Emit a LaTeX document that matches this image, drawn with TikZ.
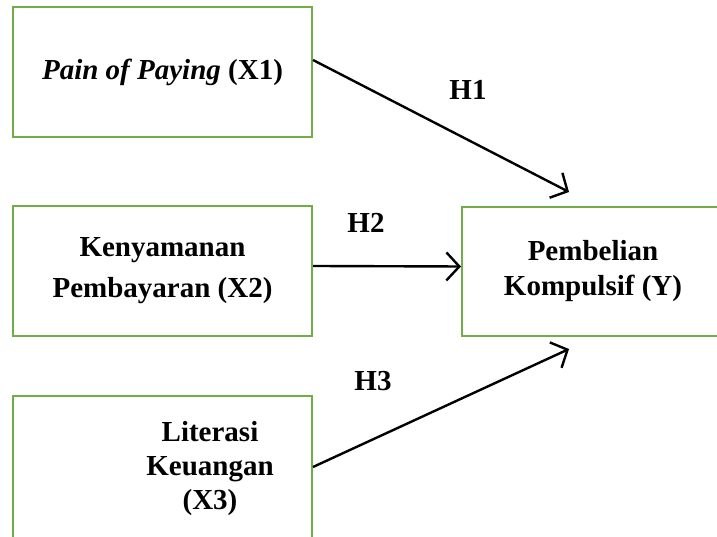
\documentclass[tikz,border=0pt]{standalone}
\usepackage{fontspec}
\setmainfont{Liberation Serif}
\usetikzlibrary{arrows.meta}
\definecolor{boxgreen}{HTML}{70AD47}

\begin{document}
\begin{tikzpicture}[x = 1pt, y = 1pt, line width = 2.4pt,
                      >={Straight Barb[length=13pt, width=28pt, line width=2.4pt]},
                      var/.style = {draw = boxgreen, line width = 2pt, align = center,
                                    font = \fontsize{29}{36}\selectfont\bfseries},
                      hyp/.style = {font = \fontsize{29}{34}\selectfont\bfseries}]
    \useasboundingbox (0, 0) rectangle (717, 537);
    \clip (0, 0) rectangle (717, 537);
    \node [var, minimum width = 299, minimum height = 130] (x1) at (162.5, 465)
        {\textit{Pain of Paying} (X1)};
    \node [var, minimum width = 299, minimum height = 130,
           font = \fontsize{29}{41}\selectfont\bfseries] (x2) at (162.5, 266)
        {Kenyamanan\\Pembayaran (X2)};
    \node [var, minimum width = 299, minimum height = 142] (x3) at (162.5, 70){};
    \node [var, draw = none, font = \fontsize{29}{34}\selectfont\bfseries] (x3text) at (210, 68)
        {Literasi\\Keuangan\\(X3)};
    \node [var, minimum width = 262, minimum height = 129,
           font = \fontsize{29}{35}\selectfont\bfseries] (y) at (593, 265.5)
        {Pembelian\\Kompulsif (Y)};
    \coordinate (h1end) at (569, 345);
    \coordinate (h3end) at (569, 188);
    \draw [->] ([yshift = 12pt]x1.east) -- (h1end);
    \draw [->] ([yshift = 5pt]x2.east) -- ([yshift = 5pt]y.west);
    \draw [->] (x3.east) -- (h3end);
    \node [hyp] (h1) at (468, 447) {H1};
    \node [hyp] (h2) at (366, 314) {H2};
    \node [hyp] (h3) at (373, 156) {H3};
\end{tikzpicture}
\end{document}
